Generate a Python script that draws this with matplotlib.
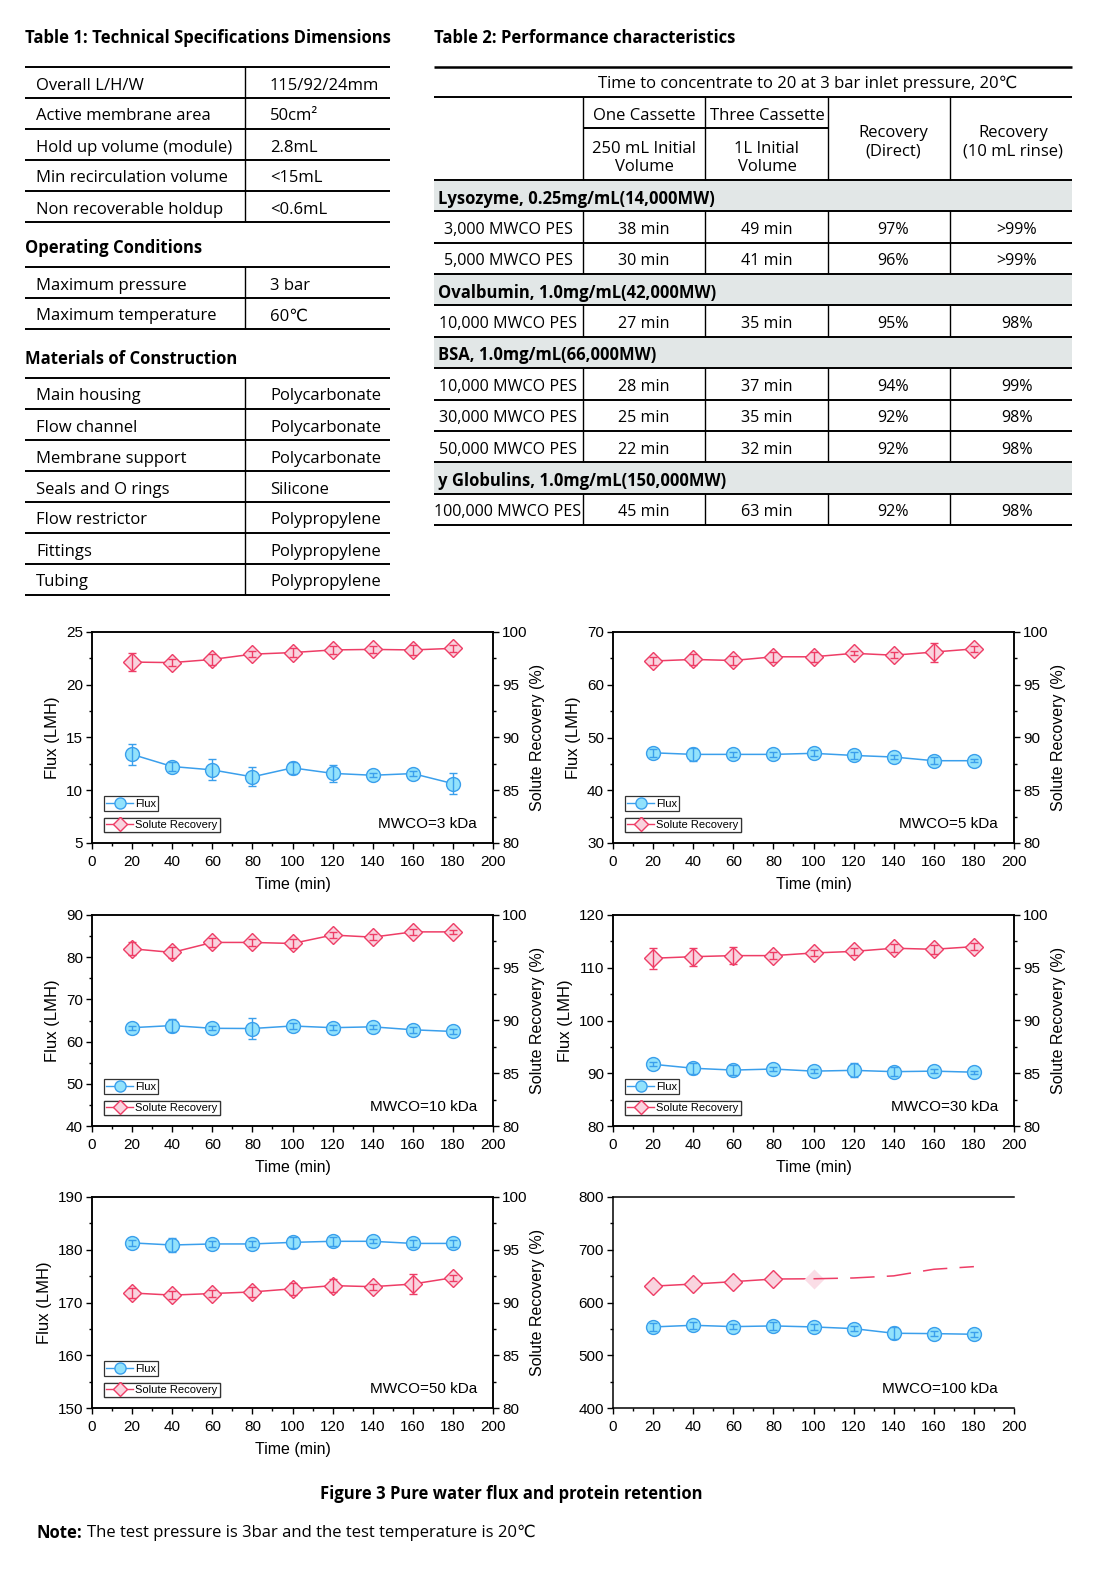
import matplotlib.pyplot as plt
from matplotlib.lines import Line2D
from matplotlib.patches import Rectangle
from matplotlib.ticker import MultipleLocator

plt.rcParams['font.family'] = ['Liberation Sans', 'DejaVu Sans']
TABLE_FONT = ['Open Sans', 'DejaVu Sans']
FIG_W, FIG_H = 1105, 1572

# ---- Table 1: technical specifications
spec_rows = [("Overall L/H/W", "115/92/24mm"),
             ("Active membrane area", "50cm²"),
             ("Hold up volume (module)", "2.8mL"),
             ("Min recirculation volume", "<15mL"),
             ("Non recoverable holdup", "<0.6mL")]
operating_rows = [("Maximum pressure", "3 bar"),
                  ("Maximum temperature", "60℃")]
material_rows = [("Main housing", "Polycarbonate"),
                 ("Flow channel", "Polycarbonate"),
                 ("Membrane support", "Polycarbonate"),
                 ("Seals and O rings", "Silicone"),
                 ("Flow restrictor", "Polypropylene"),
                 ("Fittings", "Polypropylene"),
                 ("Tubing", "Polypropylene")]

# ---- Table 2: performance characteristics
perf_groups = ["Lysozyme, 0.25mg/mL(14,000MW)",
               "Ovalbumin, 1.0mg/mL(42,000MW)",
               "BSA, 1.0mg/mL(66,000MW)",
               "y Globulins, 1.0mg/mL(150,000MW)"]
perf_rows = [[("3,000 MWCO PES", "38 min", "49 min", "97%", ">99%"),
              ("5,000 MWCO PES", "30 min", "41 min", "96%", ">99%")],
             [("10,000 MWCO PES", "27 min", "35 min", "95%", "98%")],
             [("10,000 MWCO PES", "28 min", "37 min", "94%", "99%"),
              ("30,000 MWCO PES", "25 min", "35 min", "92%", "98%"),
              ("50,000 MWCO PES", "22 min", "32 min", "92%", "98%")],
             [("100,000 MWCO PES", "45 min", "63 min", "92%", "98%")]]

# ---- Figure 3 data
time_min = [20, 40, 60, 80, 100, 120, 140, 160, 180]

flux_3 = [13.4, 12.25, 11.93, 11.27, 12.12, 11.6, 11.42, 11.58, 10.63]
flux_3_err = [1.0, 0.45, 1.0, 0.9, 0.55, 0.8, 0.2, 0.2, 1.0]
rec_3 = [97.15, 97.1, 97.4, 97.9, 98.05, 98.3, 98.35, 98.3, 98.45]
rec_3_err = [0.85, 0.3, 0.5, 0.3, 0.4, 0.4, 0.3, 0.5, 0.3]

flux_5 = [47.1, 46.8, 46.8, 46.8, 47.0, 46.6, 46.3, 45.6, 45.6]
flux_5_err = [0.8, 1.2, 0.5, 0.5, 0.6, 0.7, 0.4, 0.7, 0.3]
rec_5 = [97.25, 97.4, 97.3, 97.65, 97.65, 97.98, 97.8, 98.1, 98.4]
rec_5_err = [0.4, 0.5, 0.4, 0.5, 0.5, 0.2, 0.3, 0.9, 0.3]

flux_10 = [63.3, 63.8, 63.15, 63.1, 63.7, 63.3, 63.5, 62.8, 62.4]
flux_10_err = [0.5, 1.5, 0.5, 2.45, 0.6, 0.6, 0.5, 0.7, 0.6]
rec_10 = [96.8, 96.45, 97.4, 97.4, 97.3, 98.1, 97.9, 98.4, 98.4]
rec_10_err = [0.6, 0.5, 0.4, 0.3, 0.4, 0.3, 0.3, 0.3, 0.2]

flux_30 = [91.7, 90.95, 90.6, 90.8, 90.4, 90.55, 90.3, 90.4, 90.2]
flux_30_err = [0.4, 1.0, 1.0, 0.4, 0.4, 1.3, 0.9, 0.4, 0.3]
rec_30 = [95.9, 96.05, 96.15, 96.15, 96.4, 96.55, 96.85, 96.75, 97.0]
rec_30_err = [1.0, 0.85, 0.8, 0.3, 0.3, 0.3, 0.4, 0.4, 0.3]

flux_50 = [181.3, 180.9, 181.1, 181.1, 181.4, 181.6, 181.6, 181.2, 181.2]
flux_50_err = [0.6, 1.4, 0.5, 0.5, 1.0, 0.9, 0.4, 0.6, 0.7]
rec_50 = [90.9, 90.7, 90.85, 91.0, 91.3, 91.6, 91.5, 91.75, 92.35]
rec_50_err = [0.5, 0.4, 0.3, 0.5, 0.55, 0.6, 0.3, 0.95, 0.3]

flux_100 = [553.7, 556.8, 554.3, 555.6, 553.7, 550.5, 541.7, 541.0, 539.8]
flux_100_err = [7, 7, 5, 7, 5, 5, 11, 5, 5]
rec_100 = [631, 635, 639.5, 644.5, 645, 646.5, 650.5, 663, 668]

BLUE = '#3A9FEC'
BLUE_FACE = '#92E2FC'
RED = '#EE3D66'
RED_FACE = '#F9D3DE'

fig = plt.figure(figsize=(FIG_W / 100, FIG_H / 100), dpi=100)


def fx(x):
    return x / FIG_W


def fy(y):
    return 1 - y / FIG_H


def hline(x0, x1, y, lw=1.4):
    fig.add_artist(Line2D([fx(x0), fx(x1)], [fy(y), fy(y)], color='black',
                          lw=lw, solid_capstyle='butt'))


def vline(x, y0, y1, lw=1.0):
    fig.add_artist(Line2D([fx(x), fx(x)], [fy(y0), fy(y1)], color='black',
                          lw=lw, solid_capstyle='butt'))


def txt(x, y, s, ha='left', weight='normal', size=12):
    # +3 px: va='center' sits a little high for this font
    return fig.text(fx(x), fy(y + 3), s, ha=ha, va='center', fontsize=size,
                    fontweight=weight, family=TABLE_FONT)


def kv_table(rows, top, row_h=31):
    for i, (k, v) in enumerate(rows):
        yc = top + row_h * (i + 0.5)
        txt(36, yc, k)
        txt(270, yc, v)
    for i in range(len(rows) + 1):
        hline(25, 390, top + row_h * i)
    vline(245, top, top + row_h * len(rows))


# ---- Table 1
txt(25, 35, "Table 1: Technical Specifications Dimensions", weight='bold')
kv_table(spec_rows, 67)
txt(25, 245, "Operating Conditions", weight='bold')
kv_table(operating_rows, 267)
txt(25, 356, "Materials of Construction", weight='bold')
kv_table(material_rows, 378)

# ---- Table 2
L2, R2 = 434, 1072
cols = [583, 705, 828, 950]
centers = [508, 644, 767, 893, 1017]
txt(434, 35, "Table 2: Performance characteristics", weight='bold')
hline(L2, R2, 67, lw=1.8)
txt(808, 81, "Time to concentrate to 20 at 3 bar inlet pressure, 20℃",
    ha='center')
hline(L2, R2, 97)
txt(644, 113, "One Cassette", ha='center')
txt(767, 113, "Three Cassette", ha='center')
hline(583, 828, 128)
txt(644, 155, "250 mL Initial\nVolume", ha='center')
txt(767, 155, "1L Initial\nVolume", ha='center')
txt(893, 139, "Recovery\n(Direct)", ha='center')
txt(1013, 139, "Recovery\n(10 mL rinse)", ha='center')
for c in cols:
    vline(c, 97, 180)
hline(L2, R2, 180)

row_h2 = 31.36
y = 180
for group, rows in zip(perf_groups, perf_rows):
    fig.add_artist(Rectangle((fx(L2), fy(y + row_h2)), fx(R2) - fx(L2),
                             row_h2 / FIG_H, transform=fig.transFigure,
                             facecolor='#E2E7E7', edgecolor='none', zorder=0))
    txt(438, y + row_h2 / 2, group, weight='bold')
    y += row_h2
    hline(L2, R2, y)
    for row in rows:
        for c, s in zip(centers, row):
            txt(c, y + row_h2 / 2, s, ha='center', size=11.6)
        for c in cols:
            vline(c, y, y + row_h2)
        y += row_h2
        hline(L2, R2, y)


# ---- Figure 3 panels
def boxed_legend(ax, handle, label, yb):
    leg = ax.legend([handle], [label], loc='lower left',
                    bbox_to_anchor=(0.03, yb), bbox_transform=ax.transAxes,
                    frameon=True, fancybox=False, edgecolor='#333333',
                    framealpha=1, fontsize=8, borderpad=0.2, handlelength=2.4,
                    handletextpad=0.2, borderaxespad=0)
    leg.get_frame().set_linewidth(0.9)
    ax.add_artist(leg)


def style_axis(ax, ylim, ystep):
    ax.set_xlim(0, 200)
    ax.set_ylim(*ylim)
    ax.xaxis.set_major_locator(MultipleLocator(20))
    ax.xaxis.set_minor_locator(MultipleLocator(10))
    ax.yaxis.set_major_locator(MultipleLocator(ystep))
    ax.yaxis.set_minor_locator(MultipleLocator(ystep / 2))
    ax.tick_params(which='major', direction='out', length=4, width=1,
                   labelsize=11, pad=2.5)
    ax.tick_params(axis='x', which='major', pad=4.5)
    ax.tick_params(which='minor', direction='out', length=2.5, width=1)
    for sp in ax.spines.values():
        sp.set_linewidth(1.1)


def panel(x0, top, flux, flux_err, rec, rec_err, ylim, ystep, mwco):
    ax = fig.add_axes([fx(x0), fy(top + 211), 401 / FIG_W, 211 / FIG_H])
    style_axis(ax, ylim, ystep)
    ax.plot(time_min, flux, '-o', color=BLUE, mfc=BLUE_FACE, mec=BLUE,
            ms=10, lw=1.1, zorder=3)
    ax.errorbar(time_min, flux, yerr=flux_err, fmt='none', ecolor=BLUE,
                elinewidth=1, capsize=3, zorder=4)
    ax.set_ylabel('Flux (LMH)', fontsize=12, labelpad=4)
    ax.set_xlabel('Time (min)', fontsize=11.5, labelpad=6)

    ax2 = ax.twinx()
    style_axis(ax2, (80, 100), 5)
    ax2.plot(time_min, rec, '-D', color=RED, mfc=RED_FACE, mec=RED,
             ms=9, lw=1.1, zorder=3)
    ax2.errorbar(time_min, rec, yerr=rec_err, fmt='none', ecolor=RED,
                 elinewidth=1, capsize=3, zorder=4)
    ax2.set_ylabel('Solute Recovery (%)', fontsize=11.5, labelpad=2)

    h_flux = Line2D([], [], color=BLUE, marker='o', mfc=BLUE_FACE, mec=BLUE,
                    ms=8, lw=1)
    h_rec = Line2D([], [], color=RED, marker='D', mfc=RED_FACE, mec=RED,
                   ms=7.5, lw=1)
    boxed_legend(ax2, h_flux, 'Flux', 0.152)
    boxed_legend(ax2, h_rec, 'Solute Recovery', 0.05)
    ax2.text(0.96, 0.09, mwco, transform=ax2.transAxes, ha='right',
             va='center', fontsize=11)
    return ax


LX, RX = 92, 613
tops = [632, 915, 1197]
panel(LX, tops[0], flux_3, flux_3_err, rec_3, rec_3_err, (5, 25), 5,
      'MWCO=3 kDa')
panel(RX, tops[0], flux_5, flux_5_err, rec_5, rec_5_err, (30, 70), 10,
      'MWCO=5 kDa')
panel(LX, tops[1], flux_10, flux_10_err, rec_10, rec_10_err, (40, 90), 10,
      'MWCO=10 kDa')
panel(RX, tops[1], flux_30, flux_30_err, rec_30, rec_30_err, (80, 120), 10,
      'MWCO=30 kDa')
panel(LX, tops[2], flux_50, flux_50_err, rec_50, rec_50_err,
      (150, 190), 10, 'MWCO=50 kDa')

# 100 kDa panel: single axis, recovery trace partly lost in the original
ax6 = fig.add_axes([fx(RX), fy(tops[2] + 211), 401 / FIG_W, 211 / FIG_H])
style_axis(ax6, (400, 800), 100)
ax6.spines['right'].set_visible(False)
ax6.plot(time_min, flux_100, '-o', color=BLUE, mfc=BLUE_FACE, mec=BLUE,
         ms=10, lw=1.1, zorder=3)
ax6.errorbar(time_min, flux_100, yerr=flux_100_err, fmt='none', ecolor=BLUE,
             elinewidth=1, capsize=3, zorder=4)
ax6.plot(time_min[:5], rec_100[:5], '-', color=RED, lw=1.1, zorder=3)
ax6.plot(time_min[:4], rec_100[:4], 'D', mfc=RED_FACE, mec=RED, ms=9,
         zorder=3)
ax6.plot(time_min[4], rec_100[4], 'D', mfc='#FADDE6', mec='none', ms=10,
         zorder=3)
ax6.plot(time_min[4:], rec_100[4:], color=RED, lw=1.1, ls=(0, (16, 8)),
         zorder=3)
ax6.text(0.96, 0.09, 'MWCO=100 kDa', transform=ax6.transAxes, ha='right',
         va='center', fontsize=11)

# ---- captions
txt(511, 1491, "Figure 3 Pure water flux and protein retention", ha='center',
    weight='bold', size=12)
note = txt(37, 1530, "Note:", weight='bold')
ax6.annotate("The test pressure is 3bar and the test temperature is 20℃",
             xy=(1, 0.5), xycoords=note, xytext=(3, 0),
             textcoords='offset points', va='center', ha='left',
             fontsize=12, family=TABLE_FONT, annotation_clip=False)

fig.savefig('out.png', dpi=100)
